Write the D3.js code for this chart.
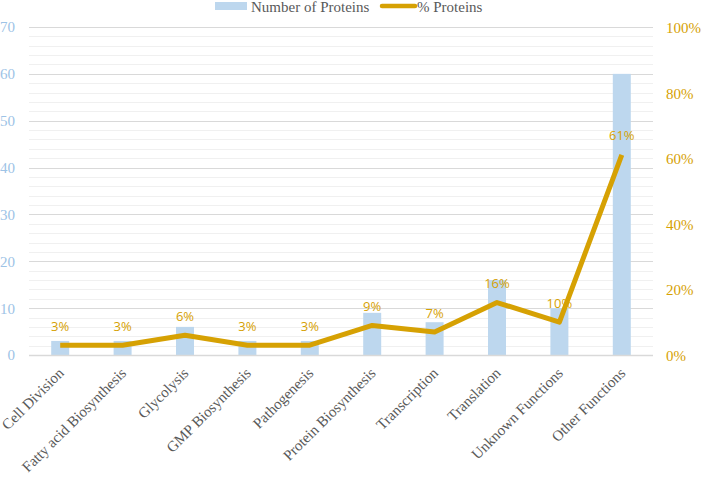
<!DOCTYPE html>
<html><head><meta charset="utf-8">
<script src="https://cdn.jsdelivr.net/npm/d3@7"></script>
<style>body{margin:0;background:#fff}svg{display:block}</style>
</head><body>
<svg id="c" width="702" height="478"></svg>
<script>
const categories = ["Cell Division","Fatty acid Biosynthesis","Glycolysis","GMP Biosynthesis","Pathogenesis","Protein Biosynthesis","Transcription","Translation","Unknown Functions","Other Functions"];
const proteinCounts = [3,3,6,3,3,9,7,16,10,60];
const proteinPercents = [3,3,6,3,3,9,7,16,10,61];
const leftTicks = [0,10,20,30,40,50,60,70];
const rightTicks = [0,20,40,60,80,100];

const svg = d3.select("#c");
const L = 29, R = 653, T = 27, B = 355;
const x = d3.scaleBand().domain(categories).range([L, R]);
const yL = d3.scaleLinear().domain([0,70]).range([B, T]);
const yR = d3.scaleLinear().domain([0,100]).range([B, T]);
const gold = "#D6A103", blue = "#BDD7EE", blueText = "#9DC3E6", grey = "#595959";
const serif = "'Liberation Serif', 'Times New Roman', serif";

// minor gridlines
svg.append("g").selectAll("line").data(d3.range(0,71,2).filter(v=>v%10!==0)).join("line")
  .attr("x1",L).attr("x2",R).attr("y1",d=>Math.round(yL(d))+0.5).attr("y2",d=>Math.round(yL(d))+0.5)
  .attr("stroke","#F0F0F0").attr("stroke-width",1);
// major gridlines
svg.append("g").selectAll("line").data(leftTicks).join("line")
  .attr("x1",L).attr("x2",R).attr("y1",d=>Math.round(yL(d))+0.5).attr("y2",d=>Math.round(yL(d))+0.5)
  .attr("stroke","#D9D9D9").attr("stroke-width",1);

// bars
const bw = 18;
svg.append("g").selectAll("rect").data(categories).join("rect")
  .attr("x",(d)=>x(d)+x.bandwidth()/2-bw/2)
  .attr("width",bw)
  .attr("y",(d,i)=>yL(proteinCounts[i]))
  .attr("height",(d,i)=>B-yL(proteinCounts[i]))
  .attr("fill",blue);

// baseline
svg.append("line").attr("x1",L).attr("x2",R).attr("y1",B+0.5).attr("y2",B+0.5)
  .attr("stroke","#D9D9D9").attr("stroke-width",1.5);

// line
const line = d3.line().x((d,i)=>x(categories[i])+x.bandwidth()/2).y(d=>yR(d));
svg.append("path").datum(proteinPercents).attr("d",line)
  .attr("fill","none").attr("stroke",gold).attr("stroke-width",5).attr("stroke-linejoin","round");

// data labels
svg.append("g").selectAll("text").data(proteinPercents).join("text")
  .attr("x",(d,i)=>x(categories[i])+x.bandwidth()/2)
  .attr("y",d=>yR(d)-14.5)
  .attr("text-anchor","middle")
  .style("font-family","'Open Sans', sans-serif").style("font-size","13px")
  .attr("fill",gold).text(d=>d+"%");

// left axis
const la = svg.append("g").attr("transform",`translate(15,0)`)
  .call(d3.axisLeft(yL).tickValues(leftTicks).tickSize(0).tickPadding(0));
la.select(".domain").remove();
la.selectAll("text").style("font-family",serif).style("font-size","15px").attr("fill",blueText).attr("dy","0.33em");

// right axis
const ra = svg.append("g").attr("transform",`translate(666,0)`)
  .call(d3.axisRight(yR).tickValues(rightTicks).tickFormat(d=>d+"%").tickSize(0).tickPadding(0));
ra.select(".domain").remove();
ra.selectAll("text").style("font-family",serif).style("font-size","15px").attr("fill",gold).attr("dy","0.36em");

// x axis labels
const xa = svg.append("g").attr("transform",`translate(0,${B})`)
  .call(d3.axisBottom(x).tickSize(0).tickPadding(0));
xa.select(".domain").remove();
xa.selectAll("text")
  .style("font-family",serif).style("font-size","15px").attr("fill",grey)
  .attr("text-anchor","end").attr("dy",0).attr("y",0)
  .attr("transform","translate(4.5,19) rotate(-45)");

// legend
const lg = svg.append("g");
lg.append("rect").attr("x",215).attr("y",2).attr("width",32).attr("height",8).attr("fill",blue);
lg.append("text").attr("x",251).attr("y",12).text("Number of Proteins")
  .style("font-family",serif).style("font-size","15px").attr("fill",grey);
lg.append("line").attr("x1",382).attr("x2",415).attr("y1",6).attr("y2",6).attr("stroke",gold).attr("stroke-width",4.5).attr("stroke-linecap","round");
lg.append("text").attr("x",417).attr("y",12).text("% Proteins")
  .style("font-family",serif).style("font-size","15px").attr("fill",grey);
</script>
</body></html>
